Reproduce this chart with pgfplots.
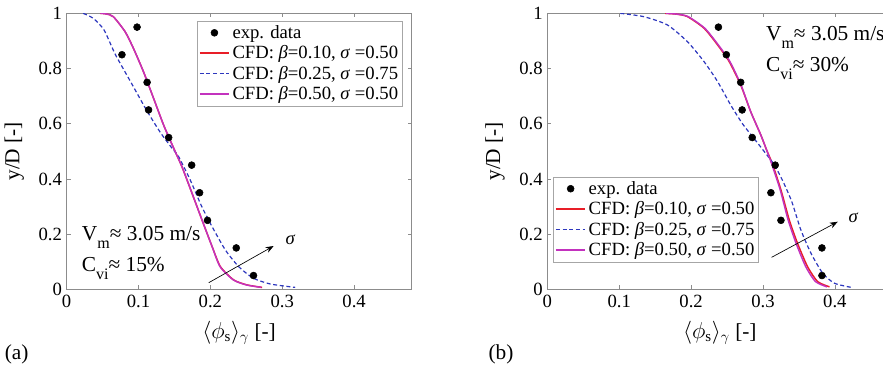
\documentclass[border=0pt]{standalone}
\usepackage{fontspec}
\setmainfont{Liberation Serif}
\usepackage{amsmath}
\usepackage{pgfplots}
\pgfplotsset{compat=1.18}
\usetikzlibrary{arrows.meta}
\definecolor{cred}{RGB}{232,30,40}
\definecolor{cblue}{RGB}{45,55,190}
\definecolor{cmag}{RGB}{195,50,190}
\newcommand{\fst}{\fontsize{14}{16}\selectfont}
\newcommand{\fsl}{\fontsize{14}{16.2}\selectfont}
\newcommand{\fsa}{\fontsize{16}{18}\selectfont}
\newcommand{\fsx}{\fontsize{16}{18}\selectfont}
\newcommand{\sub}[1]{\raisebox{-6pt}{\fontsize{12}{12}\selectfont #1}}

\pgfplotstableread{
x y
0.098 0.95
0.077 0.85
0.112 0.75
0.114 0.65
0.142 0.55
0.174 0.45
0.185 0.35
0.196 0.25
0.236 0.15
0.260 0.05
}\expA
\pgfplotstableread{
x y
0.047 1.000
0.055 0.998
0.065 0.988
0.0815 0.933
0.093 0.873
0.107 0.788
0.121 0.692
0.135 0.595
0.149 0.511
0.1605 0.444
0.1745 0.348
0.1884 0.251
0.2024 0.155
0.214 0.082
0.2325 0.034
0.251 0.016
0.272 0.007
}\redA
\pgfplotstableread{
x y
0.047 1.000
0.055 0.998
0.065 0.988
0.0815 0.933
0.093 0.873
0.107 0.788
0.121 0.692
0.135 0.595
0.149 0.511
0.1605 0.444
0.1745 0.348
0.1884 0.251
0.2024 0.155
0.2135 0.082
0.232 0.034
0.250 0.016
0.271 0.007
}\magA
\pgfplotstableread{
x y
0.023 1.000
0.037 0.982
0.052 0.940
0.068 0.850
0.0895 0.750
0.111 0.650
0.130 0.570
0.147 0.510
0.156 0.480
0.172 0.396
0.188 0.300
0.2024 0.227
0.221 0.142
0.2395 0.082
0.260 0.040
0.284 0.019
0.318 0.007
}\bluA
\pgfplotstableread{
x y
0.238 0.95
0.249 0.85
0.269 0.75
0.271 0.65
0.285 0.55
0.317 0.45
0.311 0.35
0.325 0.25
0.382 0.15
0.382 0.05
}\expB
\pgfplotstableread{
x y
0.164 1.000
0.180 0.997
0.195 0.988
0.218 0.946
0.237 0.885
0.253 0.825
0.269 0.740
0.283 0.643
0.297 0.559
0.305 0.505
0.313 0.455
0.325 0.360
0.3366 0.251
0.348 0.167
0.362 0.082
0.376 0.028
0.3925 0.009
}\redB
\pgfplotstableread{
x y
0.165 1.000
0.181 0.997
0.196 0.988
0.219 0.946
0.238 0.885
0.254 0.825
0.2695 0.740
0.283 0.643
0.297 0.559
0.305 0.505
0.312 0.455
0.324 0.360
0.335 0.251
0.346 0.167
0.3595 0.082
0.373 0.028
0.389 0.009
}\magB
\pgfplotstableread{
x y
0.1015 1.000
0.134 0.988
0.167 0.958
0.195 0.897
0.218 0.825
0.237 0.752
0.255 0.668
0.272 0.598
0.288 0.545
0.303 0.495
0.316 0.450
0.328 0.390
0.340 0.318
0.3527 0.215
0.3669 0.130
0.3832 0.058
0.3995 0.022
0.4228 0.007
}\bluB

\pgfplotsset{
  myax/.style={
    scale only axis, width=258.8pt, height=207pt,
    anchor=south west,
    xmin=0, xmax=0.48, ymin=0, ymax=1,
    xtick={0,0.1,0.2,0.3,0.4}, ytick={0,0.2,0.4,0.6,0.8,1},
    xticklabels={0,0.1,0.2,0.3,0.4}, yticklabels={0,0.2,0.4,0.6,0.8,1},
    tick align=inside, major tick length=3pt,
    axis line style={black!45}, tick style={black!45, thin},
    every tick label/.style={font=\fst, text=black},
    xticklabel style={yshift=-1pt},
    label style={font=\fsx},
    xlabel={$\langle \phi_{\text{s}}\rangle_{\gamma}$ [-]},
    ylabel={y/D [-]},
    ylabel style={yshift=4pt},
    xlabel style={yshift=-3pt},
    legend cell align=left,
    legend style={font=\fsl, draw=black!35, fill=white, inner sep=1.2pt,
      row sep=0pt, /tikz/every even column/.append style={column sep=0pt}},
    clip=true,
  },
  expst/.style={only marks, mark=*, mark size=2.6pt, black,
    legend image code/.code={\fill[black] (11pt,0pt) circle (2.6pt);}},
  redst/.style={cred, line width=1.1pt, smooth, tension=0.4,
    legend image code/.code={\draw[cred, line width=1.1pt] (0pt,0pt) -- (22pt,0pt);}},
  magst/.style={cmag, line width=1.1pt, smooth, tension=0.4,
    legend image code/.code={\draw[cmag, line width=1.1pt] (0pt,0pt) -- (22pt,0pt);}},
  blust/.style={cblue, dash pattern=on 3pt off 2pt, line width=0.9pt, smooth, tension=0.4,
    legend image code/.code={\draw[cblue, dash pattern=on 3pt off 2pt, line width=0.9pt] (0pt,0pt) -- (22pt,0pt);}},
}

\begin{document}
\begin{tikzpicture}
\useasboundingbox (0,0) rectangle (662.25pt,276pt);
\clip (0,0) rectangle (662.25pt,276pt);

\begin{axis}[myax, at={(49.95pt,59.0pt)},
  legend style={at={(0.974,0.973)}, anchor=north east}]
\addplot[expst] table[x=x,y=y] {\expA};
\addlegendentry{exp. data}
\addplot[redst] table[x=x,y=y] {\redA};
\addlegendentry{CFD: \textit{β}=0.10, \textit{σ} =0.50}
\addplot[blust] table[x=x,y=y] {\bluA};
\addlegendentry{CFD: \textit{β}=0.25, \textit{σ} =0.75}
\addplot[magst] table[x=x,y=y] {\magA};
\addlegendentry{CFD: \textit{β}=0.50, \textit{σ} =0.50}
\draw[black, line width=0.5pt, -{Stealth[length=6pt,width=4.5pt]}] (axis cs:0.1977,0.024) -- (axis cs:0.288,0.157);
\node[font=\fst] at (axis cs:0.3116,0.181) {\textit{σ}};
\node[font=\fsa, anchor=base west, inner sep=0pt] at (axis cs:0.021,0.176) {V\sub{m}≈ 3.05 m/s};
\node[font=\fsa, anchor=base west, inner sep=0pt] at (axis cs:0.021,0.064) {C\sub{vi}≈ 15\%};
\end{axis}

\begin{axis}[myax, at={(410.5pt,59.0pt)},
  legend style={at={(0.0175,0.408)}, anchor=north west}]
\addplot[expst] table[x=x,y=y] {\expB};
\addlegendentry{exp. data}
\addplot[redst] table[x=x,y=y] {\redB};
\addlegendentry{CFD: \textit{β}=0.10, \textit{σ} =0.50}
\addplot[blust] table[x=x,y=y] {\bluB};
\addlegendentry{CFD: \textit{β}=0.25, \textit{σ} =0.75}
\addplot[magst] table[x=x,y=y] {\magB};
\addlegendentry{CFD: \textit{β}=0.50, \textit{σ} =0.50}
\draw[black, line width=0.5pt, -{Stealth[length=6pt,width=4.5pt]}] (axis cs:0.312,0.116) -- (axis cs:0.404,0.245);
\node[font=\fst] at (axis cs:0.426,0.261) {\textit{σ}};
\node[font=\fsa, anchor=base west, inner sep=0pt] at (axis cs:0.304,0.903) {V\sub{m}≈ 3.05 m/s};
\node[font=\fsa, anchor=base west, inner sep=0pt] at (axis cs:0.304,0.788) {C\sub{vi}≈ 30\%};
\end{axis}

\node[font=\fsx] at (12.5pt,10.5pt) {(a)};
\node[font=\fsx] at (375.75pt,10.5pt) {(b)};
\end{tikzpicture}
\end{document}
